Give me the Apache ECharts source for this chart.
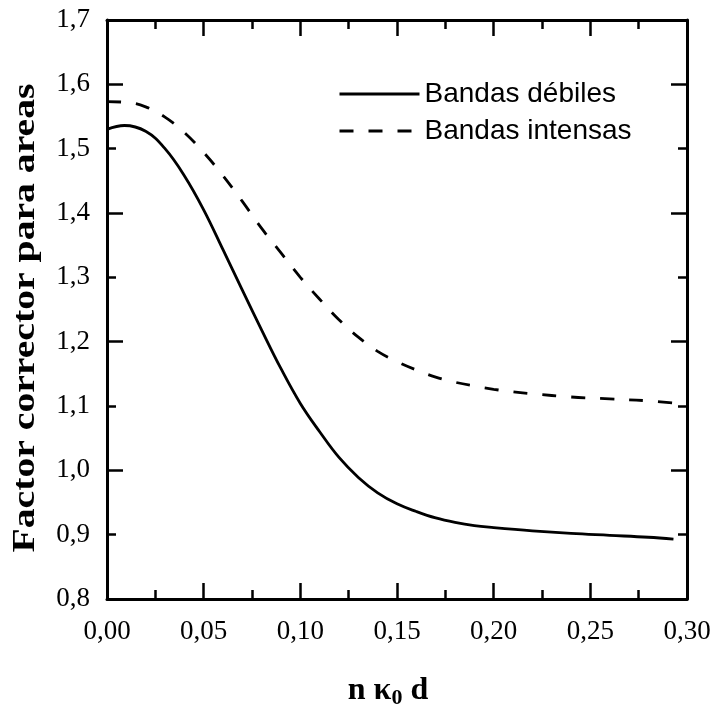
<!DOCTYPE html>
<html>
<head>
<meta charset="utf-8">
<script src="https://cdn.jsdelivr.net/npm/echarts@6/dist/echarts.min.js"></script>
<style>
html,body{margin:0;padding:0;background:#fff;}
#chart{width:715px;height:707px;}
</style>
</head>
<body>
<div id="chart"></div>
<script>
// ---- data ----
var seriesNames = ['Bandas débiles', 'Bandas intensas'];
var debilesX = [0.000, 0.009, 0.020, 0.030, 0.040, 0.050, 0.060, 0.070, 0.080, 0.090, 0.100, 0.110, 0.120, 0.130, 0.140, 0.150, 0.160, 0.170, 0.180, 0.190, 0.200, 0.220, 0.240, 0.260, 0.280, 0.293];
var debilesY = [1.530, 1.536, 1.527, 1.500, 1.458, 1.405, 1.343, 1.280, 1.218, 1.158, 1.104, 1.060, 1.020, 0.989, 0.965, 0.948, 0.936, 0.926, 0.919, 0.914, 0.911, 0.906, 0.902, 0.899, 0.896, 0.893];
var intensasX = [0.000, 0.010, 0.020, 0.030, 0.040, 0.050, 0.060, 0.070, 0.080, 0.090, 0.100, 0.110, 0.120, 0.130, 0.140, 0.150, 0.160, 0.170, 0.180, 0.190, 0.200, 0.210, 0.220, 0.240, 0.260, 0.280, 0.2995];
var intensasY = [1.573, 1.572, 1.565, 1.549, 1.525, 1.494, 1.458, 1.418, 1.376, 1.338, 1.300, 1.266, 1.234, 1.207, 1.185, 1.169, 1.156, 1.145, 1.137, 1.131, 1.126, 1.122, 1.119, 1.114, 1.111, 1.108, 1.103];
var xTicks = [0.00, 0.05, 0.10, 0.15, 0.20, 0.25, 0.30];
var yTicks = [0.8, 0.9, 1.0, 1.1, 1.2, 1.3, 1.4, 1.5, 1.6, 1.7];
var yAxisTitle = 'Factor corrector para areas';

function pairs(xs, ys) { return xs.map(function (x, i) { return [x, ys[i]]; }); }

var serif = '"Liberation Serif", "Times New Roman", serif';
var black = '#000';
var xMin = xTicks[0], xMax = xTicks[xTicks.length - 1];
var yMin = yTicks[0], yMax = yTicks[yTicks.length - 1];

function xAxisDef(pos, labels) {
  return {
    type: 'value', position: pos, min: xMin, max: xMax, interval: 0.05,
    axisLine: { show: true, onZero: false, lineStyle: { color: black, width: 3 } },
    axisTick: { show: true, inside: true, length: 16, lineStyle: { color: black, width: 2.5 } },
    minorTick: { show: true, splitNumber: 2, length: 9, lineStyle: { color: black, width: 2.5 } },
    splitLine: { show: false }, minorSplitLine: { show: false },
    axisLabel: labels ? {
      show: true, margin: 19, color: black, fontFamily: serif, fontSize: 27,
      formatter: function (v) { return v.toFixed(2).replace('.', ','); }
    } : { show: false },
    name: labels ? '{a|n \u03BA}{s|0}{a| d}' : '',
    nameLocation: 'middle', nameGap: 74,
    nameTextStyle: {
      padding: [0, 18, 0, 0],
      rich: {
        a: { fontFamily: serif, fontWeight: 'bold', fontSize: 32, color: black, lineHeight: 36 },
        s: { fontFamily: serif, fontWeight: 'bold', fontSize: 22, color: black, lineHeight: 36, padding: [14, 0, 0, 0] }
      }
    }
  };
}

function yAxisDef(pos, labels, interval, tickLen, line) {
  return {
    type: 'value', position: pos, min: yMin, max: yMax, interval: interval,
    axisLine: { show: line, onZero: false, lineStyle: { color: black, width: 3 } },
    axisTick: { show: true, inside: true, length: tickLen, lineStyle: { color: black, width: 2.5 } },
    splitLine: { show: false },
    axisLabel: labels ? {
      show: true, margin: 17, color: black, fontFamily: serif, fontSize: 27,
      formatter: function (v) { return v.toFixed(1).replace('.', ','); }
    } : { show: false }
  };
}

var chart = echarts.init(document.getElementById('chart'), null, { renderer: 'canvas' });
chart.setOption({
  backgroundColor: '#fff',
  animation: false,
  grid: { left: 107, right: 28, top: 20, bottom: 108, containLabel: false, outerBoundsMode: 'none' },
  legend: {
    orient: 'vertical', left: 333, top: 75,
    itemWidth: 80, itemHeight: 26, itemGap: 9,
    itemStyle: { color: 'rgba(0,0,0,0)', borderWidth: 0, opacity: 0 },
    lineStyle: { width: 3 },
    textStyle: { fontFamily: '"Liberation Sans", Arial, sans-serif', fontSize: 28, color: black },
    data: seriesNames
  },
  graphic: [{
    type: 'text', x: 26, y: 318, rotation: Math.PI / 2, scaleX: 1.24, scaleY: 1,
    style: {
      text: yAxisTitle, fill: black, fontFamily: serif, fontWeight: 'bold', fontSize: 32,
      align: 'center', verticalAlign: 'middle'
    }
  }],
  xAxis: [xAxisDef('bottom', true), xAxisDef('top', false)],
  yAxis: [
    yAxisDef('left', true, 0.1, 9, true),
    yAxisDef('left', false, 0.2, 16, false),
    yAxisDef('right', false, 0.1, 9, true),
    yAxisDef('right', false, 0.2, 16, false)
  ],
  series: [
    {
      name: seriesNames[0], type: 'line', xAxisIndex: 0, yAxisIndex: 0,
      data: pairs(debilesX, debilesY), smooth: 0.4, symbol: 'none',
      lineStyle: { color: black, width: 2.8, type: 'solid' },
      itemStyle: { color: black }
    },
    {
      name: seriesNames[1], type: 'line', xAxisIndex: 0, yAxisIndex: 0,
      data: pairs(intensasX, intensasY), smooth: 0.4, symbol: 'none',
      lineStyle: { color: black, width: 2.8, type: [14, 15] },
      itemStyle: { color: black }
    }
  ]
});
</script>
</body>
</html>
